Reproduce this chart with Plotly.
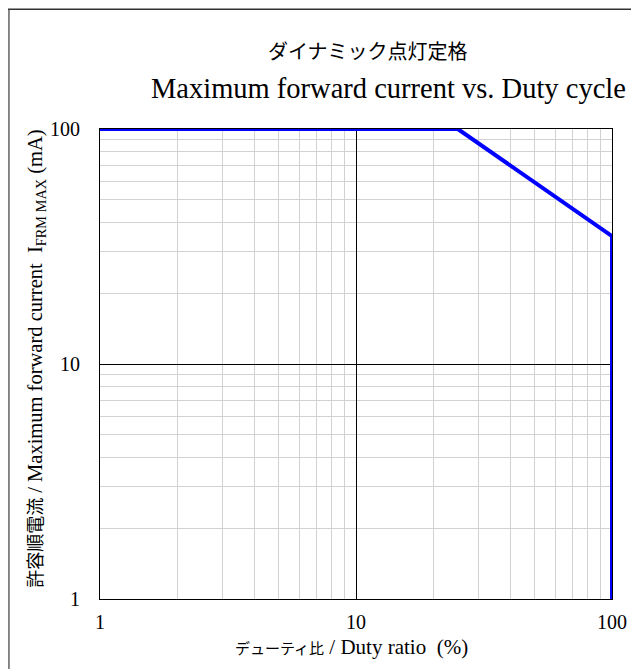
import plotly.graph_objects as go

# dynamic lighting rating: max forward current vs duty ratio
duty_ratio = [1, 25, 100, 100]
current_max = [100, 100, 35, 1]
tick_vals = [1, 10, 100]
tick_text = ["1", "10", "100"]

title_jp = "ダイナミック点灯定格"
title_en = "Maximum forward current vs. Duty cycle"
xlabel_jp = "デューティ比"
xlabel_en = " / Duty ratio  (%)"
ylabel_jp = "許容順電流"
ylabel_en = " / Maximum forward current  I<sub>FRM MAX</sub> (mA)"

serif = "Liberation Serif, Times New Roman, serif"
gothic = "Noto Sans CJK JP, sans-serif"


def mixed(jp, en, jp_size):
    return f'<span style="font-family:{gothic};font-size:{jp_size}px">{jp}</span>{en}'


fig = go.Figure()
fig.add_trace(
    go.Scatter(
        x=duty_ratio,
        y=current_max,
        mode="lines",
        line=dict(color="#0000ff", width=4),
        cliponaxis=False,
        showlegend=False,
    )
)

axis_common = dict(
    type="log",
    range=[0, 2],
    tickvals=tick_vals,
    ticktext=tick_text,
    ticks="",
    showline=True,
    mirror=True,
    linecolor="black",
    linewidth=1,
    showgrid=True,
    gridcolor="black",
    gridwidth=1,
    zeroline=False,
    tickfont=dict(family=serif, size=20, color="black"),
    minor=dict(dtick="D1", showgrid=True, gridcolor="#d2d2d2", gridwidth=1, ticks=""),
)
fig.update_xaxes(**axis_common, ticklabelstandoff=5)
fig.update_yaxes(**axis_common, ticklabelstandoff=15)

fig.add_annotation(
    text=title_jp,
    xref="paper", yref="paper", x=0.524, y=1.168,
    showarrow=False, xanchor="center", yanchor="middle",
    font=dict(family=gothic, size=20, color="black"),
)
fig.add_annotation(
    text=title_en,
    xref="paper", yref="paper", x=0.563, y=1.087,
    showarrow=False, xanchor="center", yanchor="middle",
    font=dict(family=serif, size=28.5, color="black"),
)
fig.add_annotation(
    text=mixed(xlabel_jp, xlabel_en, 15),
    xref="paper", yref="paper", x=0.492, y=-0.102,
    showarrow=False, xanchor="center", yanchor="middle",
    font=dict(family=serif, size=21, color="black"),
)
fig.add_annotation(
    text=mixed(ylabel_jp, ylabel_en, 18),
    xref="paper", yref="paper", x=-0.127, y=0.513,
    textangle=-90,
    showarrow=False, xanchor="center", yanchor="middle",
    font=dict(family=serif, size=20.5, color="black"),
)

# outer frame (left and top edges visible, the rest runs off the page)
fig.add_shape(type="line", xref="paper", yref="paper",
              x0=-0.178, x1=-0.178, y0=1.255, y1=-0.3,
              line=dict(color="#808080", width=2))
fig.add_shape(type="line", xref="paper", yref="paper",
              x0=-0.18, x1=1.2, y0=1.255, y1=1.255,
              line=dict(color="#333333", width=1.5))

# page body has an 8px margin, so the figure is shrunk to fit the window
fig.update_layout(
    width=631,
    height=661,
    margin=dict(l=92, r=22, t=121, b=70),
    paper_bgcolor="white",
    plot_bgcolor="white",
)

fig.write_html("out.html")
